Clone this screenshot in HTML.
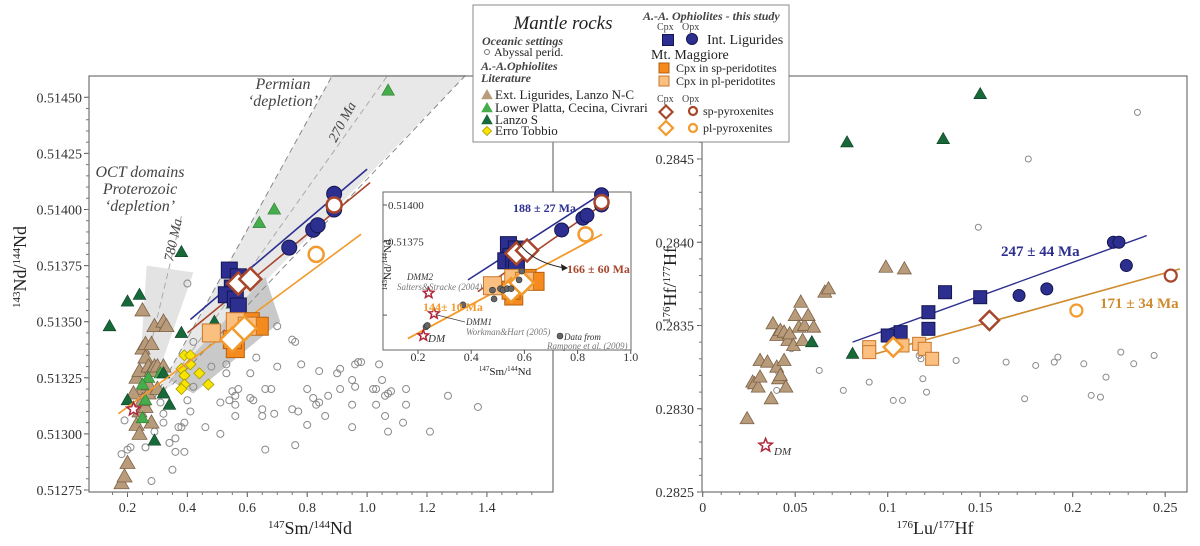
<!DOCTYPE html>
<html><head><meta charset="utf-8"><style>
html,body{margin:0;padding:0;background:#fff;}
svg{display:block;font-family:"Liberation Serif",serif;}
</style></head><body>
<svg id="fig" width="1200" height="546" viewBox="0 0 1200 546" xmlns="http://www.w3.org/2000/svg">
<rect x="0" y="0" width="1200" height="546" fill="#fff"/>
<g id="left"></g>
<g id="right"></g>
<g id="inset"></g>
<g id="legend"></g>
</svg>
<script>
// ===== Left chart data (147Sm/144Nd vs 143Nd/144Nd) =====
const smTicks=[0.2,0.4,0.6,0.8,1.0,1.2,1.4];
const smTickLabels=["0.2","0.4","0.6","0.8","1.0","1.2","1.4"];
const ndTicks=[0.51275,0.513,0.51325,0.5135,0.51375,0.514,0.51425,0.5145];
const ndTickLabels=["0.51275","0.51300","0.51325","0.51350","0.51375","0.51400","0.51425","0.51450"];
const ndAbyssal=[[0.18,0.51291],[0.19,0.51306],[0.2,0.51293],[0.21,0.51294],[0.26,0.51294],[0.28,0.51279],[0.29,0.51301],[0.31,0.51314],[0.32,0.51309],[0.32,0.51305],[0.34,0.51296],[0.35,0.51284],[0.36,0.51292],[0.37,0.51303],[0.38,0.51303],[0.36,0.51298],[0.39,0.51292],[0.39,0.51305],[0.4,0.51315],[0.41,0.5131],[0.42,0.51321],[0.40,0.51367],[0.42,0.51341],[0.46,0.51303],[0.48,0.5133],[0.51,0.513],[0.51,0.51314],[0.53,0.51331],[0.53,0.51327],[0.54,0.51315],[0.55,0.51319],[0.56,0.51313],[0.56,0.51308],[0.56,0.51317],[0.57,0.5132],[0.55,0.51368],[0.61,0.51316],[0.61,0.51327],[0.62,0.51315],[0.63,0.51334],[0.65,0.51311],[0.65,0.51308],[0.66,0.51293],[0.66,0.5132],[0.68,0.5132],[0.69,0.51309],[0.7,0.5133],[0.7,0.51348],[0.75,0.51342],[0.76,0.51341],[0.75,0.51311],[0.76,0.51295],[0.77,0.5131],[0.78,0.51331],[0.8,0.51304],[0.8,0.5132],[0.82,0.51316],[0.83,0.51313],[0.84,0.51328],[0.84,0.51314],[0.86,0.51308],[0.87,0.51317],[0.9,0.51327],[0.91,0.5132],[0.91,0.51329],[0.95,0.51313],[0.95,0.51303],[0.95,0.51324],[0.96,0.51331],[0.96,0.51321],[0.98,0.51332],[1.02,0.5132],[1.03,0.51313],[1.03,0.5132],[1.04,0.51331],[1.05,0.51324],[1.06,0.51308],[1.06,0.51317],[1.07,0.51301],[1.08,0.51319],[1.12,0.51305],[1.13,0.51313],[1.13,0.5132],[1.21,0.51301],[1.27,0.51317],[1.37,0.51312],[0.97,0.51332],[1.07,0.51318]];
const ndExtLig=[[0.18,0.51278],[0.19,0.51281],[0.2,0.51287],[0.23,0.51304],[0.24,0.5131],[0.25,0.5132],[0.23,0.51325],[0.24,0.51328],[0.25,0.51338],[0.26,0.51334],[0.26,0.5134],[0.27,0.5133],[0.28,0.51328],[0.28,0.5134],[0.29,0.51348],[0.25,0.51355],[0.32,0.5135],[0.33,0.51348],[0.29,0.5133],[0.3,0.5133],[0.32,0.5133],[0.26,0.51312],[0.27,0.51318],[0.25,0.51315],[0.28,0.51305],[0.24,0.513],[0.22,0.51318],[0.27,0.51322],[0.3,0.5132]];
const ndPlatta=[[1.07,0.51453],[0.69,0.514],[0.64,0.51394],[0.27,0.51325],[0.26,0.51315],[0.25,0.51307],[0.31,0.51327],[0.55,0.51358],[0.25,0.51322]];
const ndLanzoS=[[0.14,0.51348],[0.2,0.51359],[0.24,0.51362],[0.38,0.51381],[0.38,0.51345],[0.49,0.5135],[0.2,0.51315],[0.32,0.51318],[0.34,0.51313],[0.29,0.51297],[0.32,0.51327]];
const ndErro=[[0.39,0.51335],[0.41,0.51335],[0.38,0.51329],[0.41,0.51331],[0.39,0.51326],[0.44,0.51327],[0.39,0.51322],[0.38,0.5132],[0.47,0.51322]];
const ndIntLigCpx=[[0.54,0.51373],[0.57,0.5137],[0.55,0.51365],[0.53,0.51362],[0.56,0.5136],[0.57,0.51357]];
const ndIntLigOpx=[[0.74,0.51383],[0.82,0.51391],[0.835,0.51393],[0.89,0.51407],[0.89,0.514]];
const ndMMsp=[[0.56,0.51338],[0.61,0.5135],[0.64,0.51348],[0.55,0.51342]];
const ndMMpl=[[0.48,0.51345],[0.56,0.5135],[0.6,0.51348]];
const ndSpPyxCpx=[[0.57,0.51367],[0.61,0.51369]];
const ndSpPyxOpx=[[0.89,0.51402]];
const ndPlPyxCpx=[[0.55,0.51342],[0.59,0.51347]];
const ndPlPyxOpx=[[0.83,0.5138]];
const ndDM=[[0.22,0.51311]];
const ndLineBlue=[[0.41,0.51351],[1.0,0.51418]];
const ndLineBrown=[[0.40,0.51345],[1.01,0.51412]];
const ndLineOrange=[[0.17,0.51309],[0.98,0.51389]];
// inset
const inTicks=[0.2,0.4,0.6,0.8,1.0];
const inTickLabels=["0.2","0.4","0.6","0.8","1.0"];
const inYTicks=[0.51375,0.514];
const inYTickLabels=["0.51375","0.51400"];
const inRampone=[[0.369,0.51332],[0.486,0.51336],[0.48,0.51342],[0.51,0.51343],[0.52,0.51342],[0.535,0.51343],[0.55,0.51343],[0.58,0.51349],[0.59,0.51355],[0.23,0.51317],[0.235,0.51318]];
const inStars=[[0.24,0.5134],[0.26,0.51326],[0.22,0.51311]];
const inLineBlue=[[0.388,0.51349],[0.884,0.51407]];
const inLineBrown=[[0.425,0.51341],[0.914,0.51403]];
const inLineOrange=[[0.162,0.51309],[0.892,0.5138]];
// ===== Right chart data (176Lu/177Hf vs 176Hf/177Hf) =====
const luTicks=[0,0.05,0.1,0.15,0.2,0.25];
const luTickLabels=["0","0.05","0.1","0.15","0.2","0.25"];
const hfTicks=[0.2825,0.283,0.2835,0.284,0.2845];
const hfTickLabels=["0.2825","0.2830","0.2835","0.2840","0.2845"];
const hfAbyssal=[[0.235,0.28478],[0.176,0.2845],[0.149,0.28409],[0.04,0.28311],[0.041,0.28322],[0.063,0.28323],[0.048,0.28336],[0.076,0.28311],[0.09,0.28316],[0.103,0.28305],[0.108,0.28305],[0.117,0.28332],[0.118,0.2833],[0.119,0.28318],[0.121,0.2831],[0.137,0.28329],[0.164,0.28328],[0.174,0.28306],[0.18,0.28326],[0.19,0.28328],[0.192,0.28331],[0.206,0.28327],[0.21,0.28308],[0.215,0.28307],[0.218,0.28319],[0.226,0.28334],[0.233,0.28327],[0.244,0.28332]];
const hfExtLig=[[0.024,0.28294],[0.027,0.28316],[0.028,0.28315],[0.03,0.28313],[0.031,0.28319],[0.031,0.28329],[0.035,0.28328],[0.037,0.28306],[0.038,0.28351],[0.04,0.28325],[0.041,0.28318],[0.042,0.2832],[0.044,0.28329],[0.045,0.28313],[0.04,0.28344],[0.042,0.28347],[0.044,0.28346],[0.046,0.28341],[0.047,0.28345],[0.049,0.28338],[0.05,0.28356],[0.052,0.28349],[0.053,0.28364],[0.054,0.28341],[0.055,0.2835],[0.057,0.28356],[0.06,0.28349],[0.066,0.2837],[0.068,0.28372],[0.099,0.28385],[0.109,0.28384]];
const hfLanzoS=[[0.078,0.2846],[0.13,0.28462],[0.15,0.28489],[0.059,0.2834],[0.081,0.28333]];
const hfIntLigCpx=[[0.1,0.28344],[0.107,0.28346],[0.122,0.28358],[0.122,0.28348],[0.131,0.2837],[0.15,0.28367]];
const hfIntLigOpx=[[0.171,0.28368],[0.186,0.28372],[0.222,0.284],[0.225,0.284],[0.229,0.28386]];
const hfMMpl=[[0.09,0.28337],[0.09,0.28334],[0.108,0.28338],[0.117,0.28339],[0.12,0.28336],[0.124,0.2833]];
const hfPlPyxCpx=[[0.103,0.28337]];
const hfSpPyxCpx=[[0.155,0.28353]];
const hfPlPyxOpx=[[0.202,0.28359]];
const hfSpPyxOpx=[[0.253,0.2838]];
const hfDM=[[0.034,0.28278]];
const hfLineBlue=[[0.081,0.2834],[0.24,0.28404]];
const hfLineOrange=[[0.087,0.28331],[0.258,0.28384]];

const NS="http://www.w3.org/2000/svg";
function mk(parent,tag,attrs){const e=document.createElementNS(NS,tag);for(const k in attrs)e.setAttribute(k,attrs[k]);parent.appendChild(e);return e;}
function txt(parent,x,y,s,attrs){const e=mk(parent,'text',Object.assign({x:x,y:y},attrs||{}));e.textContent=s;return e;}

const LX=v=>127.5+(v-0.2)*299.5, LY=v=>490-(v-0.51275)/0.00025*56.1;
const IX=v=>418+(v-0.2)*266, IY=v=>205-(v-0.514)/0.001*146.8;
const RX=v=>702.7+v*1850, RY=v=>492-(v-0.2825)/0.0001*16.65;

const C={blue:'#2c2f8f',blueE:'#15164f',orD:'#f58a1f',orDE:'#b5600f',orL:'#fbbf80',orLE:'#c8772e',brown:'#a8462c',orange:'#f39a2c',tan:'#b89b7a',tanE:'#7c6246',lg:'#45ad4c',dg:'#17693a',yel:'#f7e400',yelE:'#a89a00'};

function marker(g,type,x,y,s,fill,stroke,sw){
 let e;
 if(type==='sq') e=mk(g,'rect',{x:x-s/2,y:y-s/2,width:s,height:s,fill:fill,stroke:stroke,'stroke-width':sw});
 else if(type==='ci') e=mk(g,'circle',{cx:x,cy:y,r:s/2,fill:fill,stroke:stroke,'stroke-width':sw});
 else if(type==='tr') e=mk(g,'polygon',{points:`${x},${y-s*0.6} ${x-s*0.58},${y+s*0.42} ${x+s*0.58},${y+s*0.42}`,fill:fill,stroke:stroke,'stroke-width':sw});
 else if(type==='di') e=mk(g,'polygon',{points:`${x},${y-s/2} ${x+s/2},${y} ${x},${y+s/2} ${x-s/2},${y}`,fill:fill,stroke:stroke,'stroke-width':sw});
 else if(type==='st'){let p=[];for(let i=0;i<10;i++){const r=i%2?s*0.22:s/2;const a=-Math.PI/2+i*Math.PI/5;p.push((x+r*Math.cos(a)).toFixed(1)+','+(y+r*Math.sin(a)).toFixed(1));}e=mk(g,'polygon',{points:p.join(' '),fill:fill,stroke:stroke,'stroke-width':sw});}
 return e;
}
function series(g,data,fx,fy,type,s,fill,stroke,sw,name){
 const sg=mk(g,'g',{});
 
 
 data.forEach(d=>{const m=marker(sg,type,fx(d[0]),fy(d[1]),s,fill,stroke,sw);
  
  });
}
function line(g,d,fx,fy,col,w,name){const l=mk(g,'line',{x1:fx(d[0][0]),y1:fy(d[0][1]),x2:fx(d[1][0]),y2:fy(d[1][1]),stroke:col,'stroke-width':w});
 
 }
function poly(g,pts,fx,fy,attrs,name){const p=mk(g,'polygon',Object.assign({points:pts.map(q=>fx(q[0])+','+fy(q[1])).join(' ')},attrs));
 
 }

// ===== LEFT =====
const L=document.getElementById('left');
poly(L,[[0.29,0.51316],[0.885,0.5146],[1.33,0.5146],[0.66,0.51368],[0.35,0.51322]],LX,LY,{fill:'#e8e8e8'},'permian-depletion-field');
poly(L,[[0.34,0.51324],[0.66,0.5137],[0.71,0.5135],[0.42,0.51318]],LX,LY,{fill:'#c9c9c9'},'pyroxenite-field');
poly(L,[[0.264,0.51375],[0.42,0.51372],[0.31,0.5133],[0.235,0.51316]],LX,LY,{fill:'#e3e3e3'},'oct-depletion-field');
[[[0.29,0.51316],[0.885,0.5146]],[[0.35,0.51322],[1.33,0.5146]],[[0.32,0.51319],[1.07,0.5146]]].forEach((d,i)=>{const l=mk(L,'line',{x1:LX(d[0][0]),y1:LY(d[0][1]),x2:LX(d[1][0]),y2:LY(d[1][1]),stroke:i==2?'#aaa':'#888','stroke-width':1,'stroke-dasharray':'6,4'});
 
 });
{const l=mk(L,'line',{x1:LX(0.237),y1:LY(0.51317),x2:LX(0.38),y2:LY(0.51397),stroke:'#aaa','stroke-width':1,'stroke-dasharray':'6,4'});
 
 }
series(L,ndAbyssal,LX,LY,'ci',7,'none','#8a8a8a',1,'abyssal-peridotite');
series(L,ndExtLig,LX,LY,'tr',13,C.tan,C.tanE,0.8,'ext-ligurides');
series(L,ndPlatta,LX,LY,'tr',11,C.lg,'#2b7a30',0.6,'lower-platta');
series(L,ndLanzoS,LX,LY,'tr',11,C.dg,'#0e3f22',0.6,'lanzo-s');
series(L,ndErro,LX,LY,'di',11,C.yel,C.yelE,0.8,'erro-tobbio');
line(L,ndLineBlue,LX,LY,C.blue,1.6,'int-ligurides-isochron');
line(L,ndLineBrown,LX,LY,C.brown,1.6,'sp-pyroxenite-isochron');
line(L,ndLineOrange,LX,LY,C.orange,1.6,'pl-pyroxenite-isochron');
series(L,ndIntLigCpx,LX,LY,'sq',16,C.blue,C.blueE,1,'int-ligurides-cpx');
series(L,ndIntLigOpx,LX,LY,'ci',15,C.blue,C.blueE,1,'int-ligurides-opx');
series(L,ndMMsp,LX,LY,'sq',18,C.orD,C.orDE,1,'mm-cpx-sp-peridotite');
series(L,ndMMpl,LX,LY,'sq',18,C.orL,C.orLE,1,'mm-cpx-pl-peridotite');
series(L,ndSpPyxCpx,LX,LY,'di',22,'#fff',C.brown,2.5,'sp-pyroxenite-cpx');
series(L,ndSpPyxOpx,LX,LY,'ci',15,'#fff',C.brown,2.5,'sp-pyroxenite-opx');
series(L,ndPlPyxCpx,LX,LY,'di',24,'#fff',C.orange,2.5,'pl-pyroxenite-cpx');
series(L,ndPlPyxOpx,LX,LY,'ci',15,'#fff',C.orange,2.5,'pl-pyroxenite-opx');
series(L,ndDM,LX,LY,'st',14,'#fff','#b0253a',1.5,'depleted-mantle');
mk(L,'rect',{x:89,y:76,width:464,height:416,fill:'none',stroke:'#555','stroke-width':1});
smTicks.forEach((v,i)=>{mk(L,'line',{x1:LX(v),y1:492,x2:LX(v),y2:497,stroke:'#555'});
 const t=txt(L,LX(v),512,smTickLabels[i],{'font-size':14,'text-anchor':'middle',fill:'#333'});
 
 });
for(let v=0.15;v<1.6;v+=0.05){mk(L,'line',{x1:LX(v),y1:492,x2:LX(v),y2:495,stroke:'#777'});}
ndTicks.forEach((v,i)=>{mk(L,'line',{x1:84,y1:LY(v),x2:89,y2:LY(v),stroke:'#555'});
 const t=txt(L,82,LY(v)+5,ndTickLabels[i],{'font-size':14,'text-anchor':'end',fill:'#333'});
 
 });
for(let k=0;k<36;k++){const v=0.51275+k*0.00005;mk(L,'line',{x1:86,y1:LY(v),x2:89,y2:LY(v),stroke:'#777'});}
{const t=mk(L,'text',{x:0,y:0,'font-size':18,'text-anchor':'middle',fill:'#222',transform:'translate(26,267) rotate(-90)'});t.innerHTML='<tspan font-size="11" dy="-6">143</tspan><tspan dy="6">Nd/</tspan><tspan font-size="11" dy="-6">144</tspan><tspan dy="6">Nd</tspan>';
 
 }
{const t=mk(L,'text',{x:310,y:534,'font-size':18,'text-anchor':'middle',fill:'#222'});t.innerHTML='<tspan font-size="11" dy="-6">147</tspan><tspan dy="6">Sm/</tspan><tspan font-size="11" dy="-6">144</tspan><tspan dy="6">Nd</tspan>';
 
 }
const ann=[[283,89,'Permian'],[283,106,'‘depletion’'],[140,177,'OCT domains'],[140,194,'Proterozoic'],[140,211,'‘depletion’']];
ann.forEach(a=>{const t=txt(L,a[0],a[1],a[2],{'font-size':16,'font-style':'italic','text-anchor':'middle',fill:'#444'});
 
 });
{const t=txt(L,0,0,'270 Ma',{'font-size':14,'font-style':'italic',fill:'#444',transform:'translate(336,143) rotate(-62)'});
 
 }
{const t=txt(L,0,0,'780 Ma',{'font-size':14,'font-style':'italic',fill:'#444',transform:'translate(173,262) rotate(-78)'});
 
 }

// ===== RIGHT =====
const R=document.getElementById('right');
mk(R,'rect',{x:702,y:76,width:485,height:416,fill:'none',stroke:'#555','stroke-width':1});
luTicks.forEach((v,i)=>{mk(R,'line',{x1:RX(v),y1:492,x2:RX(v),y2:497,stroke:'#555'});
 const t=txt(R,RX(v),512,luTickLabels[i],{'font-size':14,'text-anchor':'middle',fill:'#333'});
 
 });
for(let v=0;v<0.26;v+=0.01){mk(R,'line',{x1:RX(v),y1:492,x2:RX(v),y2:495,stroke:'#777'});}
hfTicks.forEach((v,i)=>{mk(R,'line',{x1:697,y1:RY(v),x2:702,y2:RY(v),stroke:'#555'});
 const t=txt(R,694,RY(v)+5,hfTickLabels[i],{'font-size':14,'text-anchor':'end',fill:'#333'});
 
 });
for(let k=0;k<25;k++){const v=0.2825+k*0.0001;mk(R,'line',{x1:699,y1:RY(v),x2:702,y2:RY(v),stroke:'#777'});}
{const t=mk(R,'text',{x:0,y:0,'font-size':18,'text-anchor':'middle',fill:'#222',transform:'translate(676,285) rotate(-90)'});t.innerHTML='<tspan font-size="11" dy="-6">176</tspan><tspan dy="6">Hf/</tspan><tspan font-size="11" dy="-6">177</tspan><tspan dy="6">Hf</tspan>';
 
 }
{const t=mk(R,'text',{x:935,y:534,'font-size':18,'text-anchor':'middle',fill:'#222'});t.innerHTML='<tspan font-size="11" dy="-6">176</tspan><tspan dy="6">Lu/</tspan><tspan font-size="11" dy="-6">177</tspan><tspan dy="6">Hf</tspan>';
 
 }
series(R,hfAbyssal,RX,RY,'ci',6,'none','#8a8a8a',1,'abyssal-peridotite');
series(R,hfExtLig,RX,RY,'tr',12,C.tan,C.tanE,0.8,'ext-ligurides');
series(R,hfLanzoS,RX,RY,'tr',11,C.dg,'#0e3f22',0.6,'lanzo-s');
line(R,hfLineBlue,RX,RY,C.blue,1.4,'int-ligurides-isochron');
line(R,hfLineOrange,RX,RY,'#d08a2e',1.6,'pyroxenite-isochron');
series(R,hfIntLigCpx,RX,RY,'sq',13,C.blue,C.blueE,1,'int-ligurides-cpx');
series(R,hfIntLigOpx,RX,RY,'ci',12,C.blue,C.blueE,1,'int-ligurides-opx');
series(R,hfMMpl,RX,RY,'sq',13,C.orL,C.orLE,1,'mm-cpx-pl-peridotite');
series(R,hfPlPyxCpx,RX,RY,'di',19,'#fff',C.orange,2.5,'pl-pyroxenite-cpx');
series(R,hfSpPyxCpx,RX,RY,'di',19,'#fff',C.brown,2.5,'sp-pyroxenite-cpx');
series(R,hfPlPyxOpx,RX,RY,'ci',12,'#fff',C.orange,2.2,'pl-pyroxenite-opx');
series(R,hfSpPyxOpx,RX,RY,'ci',12,'#fff',C.brown,2.2,'sp-pyroxenite-opx');
series(R,hfDM,RX,RY,'st',14,'#fff','#b0253a',1.5,'depleted-mantle');
{const t=txt(R,774,455,'DM',{'font-size':11,'font-style':'italic',fill:'#333'});}
{const t=txt(R,1001,256,'247 ± 44 Ma',{'font-size':15,'font-weight':'bold',fill:C.blue});}
{const t=txt(R,1100,308,'171 ± 34 Ma',{'font-size':15,'font-weight':'bold',fill:'#d08a2e'});}

// ===== INSET =====
const I=document.getElementById('inset');
mk(I,'rect',{x:383,y:192,width:248,height:158,fill:'#fff',stroke:'#666','stroke-width':1});
inTicks.forEach((v,i)=>{mk(I,'line',{x1:IX(v),y1:350,x2:IX(v),y2:354,stroke:'#555'});
 const t=txt(I,IX(v),361,inTickLabels[i],{'font-size':12,'text-anchor':'middle',fill:'#333'});
 
 });
inYTicks.forEach((v,i)=>{mk(I,'line',{x1:383,y1:IY(v),x2:387,y2:IY(v),stroke:'#555'});
 const t=txt(I,388,IY(v)+4,inYTickLabels[i],{'font-size':11,fill:'#333'});
 
 });
[0.5135,0.51325].forEach(v=>mk(I,'line',{x1:383,y1:IY(v),x2:387,y2:IY(v),stroke:'#555'}));
{const t=mk(I,'text',{x:0,y:0,'font-size':11,'text-anchor':'middle',fill:'#222',transform:'translate(391,265) rotate(-90)'});t.innerHTML='<tspan font-size="7" dy="-4">143</tspan><tspan dy="4">Nd/</tspan><tspan font-size="7" dy="-4">144</tspan><tspan dy="4">Nd</tspan>';
 
 }
{const t=mk(I,'text',{x:505,y:375,'font-size':11,'text-anchor':'middle',fill:'#222'});t.innerHTML='<tspan font-size="7" dy="-4">147</tspan><tspan dy="4">Sm/</tspan><tspan font-size="7" dy="-4">144</tspan><tspan dy="4">Nd</tspan>';
 
 }
line(I,inLineBlue,IX,IY,C.blue,1.6,'inset-int-ligurides-isochron');
line(I,inLineBrown,IX,IY,C.brown,1.6,'inset-sp-pyroxenite-isochron');
line(I,inLineOrange,IX,IY,C.orange,1.8,'inset-pl-pyroxenite-isochron');
series(I,ndIntLigCpx,IX,IY,'sq',16,C.blue,C.blueE,1,'inset-int-ligurides-cpx');
series(I,ndIntLigOpx,IX,IY,'ci',14,C.blue,C.blueE,1,'inset-int-ligurides-opx');
series(I,ndMMsp,IX,IY,'sq',18,C.orD,C.orDE,1,'inset-mm-cpx-sp');
series(I,ndMMpl,IX,IY,'sq',18,C.orL,C.orLE,1,'inset-mm-cpx-pl');
series(I,ndSpPyxCpx,IX,IY,'di',22,'#fff',C.brown,2.5,'inset-sp-pyroxenite-cpx');
series(I,ndSpPyxOpx,IX,IY,'ci',14,'#fff',C.brown,2.5,'inset-sp-pyroxenite-opx');
series(I,ndPlPyxCpx,IX,IY,'di',24,'#fff',C.orange,2.5,'inset-pl-pyroxenite-cpx');
series(I,ndPlPyxOpx,IX,IY,'ci',14,'#fff',C.orange,2.5,'inset-pl-pyroxenite-opx');
series(I,inRampone,IX,IY,'ci',6,'#666','#333',0.6,'rampone-data');
series(I,inStars,IX,IY,'st',11,'#fff','#b0253a',1.5,'mantle-reference');
{const p=mk(I,'path',{d:'M517,240 Q530,262 565,268',fill:'none',stroke:'#222','stroke-width':1});
 const h=mk(I,'polygon',{points:'568,268 561,264 562,271',fill:'#222'});}
{const p=mk(I,'line',{x1:437,y1:315,x2:465,y2:322,stroke:'#444','stroke-width':0.8});}
const inAnn=[[513,212,'188 ± 27 Ma',{'font-size':12,'font-weight':'bold',fill:C.blue}],
[567,273,'166 ± 60 Ma',{'font-size':12,'font-weight':'bold',fill:C.brown}],
[423,311,'144± 10 Ma',{'font-size':12,'font-weight':'bold',fill:C.orange}],
[407,280,'DMM2',{'font-size':9,'font-style':'italic',fill:'#333'}],
[397,290,'Salters&Stracke (2004)',{'font-size':9,'font-style':'italic',fill:'#777'}],
[466,325,'DMM1',{'font-size':9,'font-style':'italic',fill:'#333'}],
[466,335,'Workman&Hart (2005)',{'font-size':9,'font-style':'italic',fill:'#777'}],
[428,342,'DM',{'font-size':11,'font-style':'italic',fill:'#333'}],
[564,340,'Data from',{'font-size':9,'font-style':'italic',fill:'#333'}],
[547,349,'Rampone et al. (2009)',{'font-size':9,'font-style':'italic',fill:'#777'}]];
inAnn.forEach(a=>{const t=txt(I,a[0],a[1],a[2],a[3]);});
mk(I,'circle',{cx:560,cy:336,r:3,fill:'#666',stroke:'#333','stroke-width':0.6});

// ===== LEGEND =====
const G=document.getElementById('legend');
mk(G,'rect',{x:473,y:5,width:316,height:137,fill:'#fff',stroke:'#888','stroke-width':1});
mk(G,'line',{x1:789,y1:76,x2:800,y2:76,stroke:'#555'});
function lt(x,y,s,a,name){const t=txt(G,x,y,s,Object.assign({fill:'#222'},a));return t;}
lt(563,29,'Mantle rocks',{'font-size':19,'font-style':'italic','text-anchor':'middle'},'legend-title');
lt(482,45,'Oceanic settings',{'font-size':12,'font-style':'italic','font-weight':'bold',fill:'#444'},'legend-group-oceanic');
mk(G,'circle',{cx:487,cy:52,r:2.5,fill:'none',stroke:'#777'});
lt(494,56,'Abyssal perid.',{'font-size':12},'legend-entry-abyssal');
lt(481,70,'A.-A.Ophiolites',{'font-size':12,'font-style':'italic','font-weight':'bold',fill:'#444'},'legend-group-ophiolites');
lt(481,82,'Literature',{'font-size':12,'font-style':'italic','font-weight':'bold',fill:'#444'},'legend-group-literature');
const legTri=[[95,C.tan,'Ext. Ligurides, Lanzo N-C'],[108,C.lg,'Lower Platta, Cecina, Civrari'],[120,C.dg,'Lanzo S']];
legTri.forEach(e=>{marker(G,'tr',487,e[0],10,e[1],'none',0);lt(495,e[0]+4,e[2],{'font-size':13},'legend-entry');});
marker(G,'di',487,131,9,C.yel,C.yelE,0.8);lt(495,135,'Erro Tobbio',{'font-size':13},'legend-entry-erro');
lt(643,20,'A.-A. Ophiolites - this study',{'font-size':12,'font-style':'italic','font-weight':'bold',fill:'#444'},'legend-group-this-study');
lt(657,30,'Cpx',{'font-size':10,fill:'#444'},'legend-cpx-header');lt(682,30,'Opx',{'font-size':10,fill:'#444'},'legend-opx-header');
marker(G,'sq',668,40,11,C.blue,C.blueE,1);marker(G,'ci',692,39,11,C.blue,C.blueE,1);
lt(707,44,'Int. Ligurides',{'font-size':14},'legend-entry-int-ligurides');
lt(651,59,'Mt. Maggiore',{'font-size':14},'legend-group-mt-maggiore');
marker(G,'sq',664,68,10,C.orD,C.orDE,1);lt(676,72,'Cpx in sp-peridotites',{'font-size':12},'legend-entry-sp-peridotites');
marker(G,'sq',664,81,10,C.orL,C.orLE,1);lt(676,85,'Cpx in pl-peridotites',{'font-size':12},'legend-entry-pl-peridotites');
lt(657,102,'Cpx',{'font-size':10,fill:'#444'},'legend-cpx-header');lt(682,102,'Opx',{'font-size':10,fill:'#444'},'legend-opx-header');
marker(G,'di',666,112,13,'#fff',C.brown,2.2);marker(G,'ci',693,111,8,'#fff',C.brown,2.2);
lt(703,115,'sp-pyroxenites',{'font-size':12},'legend-entry-sp-pyroxenites');
marker(G,'di',666,128,14,'#fff',C.orange,2.2);marker(G,'ci',693,128,8,'#fff',C.orange,2.2);
lt(703,132,'pl-pyroxenites',{'font-size':12},'legend-entry-pl-pyroxenites');
</script>
</body></html>
